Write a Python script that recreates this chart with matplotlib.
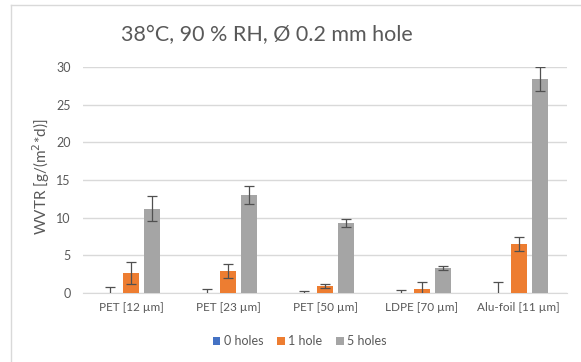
import matplotlib
matplotlib.use("Agg")
import matplotlib.pyplot as plt
import numpy as np
from matplotlib.lines import Line2D

plt.rcParams['font.family'] = ['Lato', 'DejaVu Sans']

categories = ["PET [12 µm]", "PET [23 µm]", "PET [50 µm]", "LDPE [70 µm]", "Alu-foil [11 µm]"]
series_names = ["0 holes", "1 hole", "5 holes"]
vals_0 = [0, 0, 0, 0, 0]
err_0 = [0.8, 0.55, 0.27, 0.4, 1.45]
vals_1 = [2.6, 2.9, 0.9, 0.45, 6.5]
err_1 = [1.45, 0.95, 0.3, 1.0, 0.95]
vals_5 = [11.2, 13.0, 9.25, 3.3, 28.45]
err_5 = [1.65, 1.15, 0.5, 0.3, 1.6]
yticks = [0, 5, 10, 15, 20, 25, 30]

colors = ["#4472C4", "#ED7D31", "#A5A5A5"]
text_c = "#595959"

fig = plt.figure(figsize=(5.81, 3.62), dpi=100)
ax = fig.add_axes([0.1429, 0.1914, 0.976 - 0.1429, 0.814 - 0.1914])

x = np.arange(len(categories))
w = 0.165
step = 0.217
for i, (v, e) in enumerate([(vals_0, err_0), (vals_1, err_1), (vals_5, err_5)]):
    ax.bar(x + (i - 1) * step, v, width=w, color=colors[i], label=series_names[i],
           yerr=e, error_kw=dict(ecolor="#505050", elinewidth=0.9, capsize=3.5, capthick=0.9),
           zorder=3)

ax.set_xlim(-0.5, len(categories) - 0.5)
ax.set_ylim(0, 30)
ax.set_yticks(yticks)
ax.yaxis.grid(True, color="#D9D9D9", linewidth=1.0, zorder=0)
ax.set_axisbelow(True)
for s in ["top", "right", "left"]:
    ax.spines[s].set_visible(False)
ax.spines["bottom"].set_color("#D9D9D9")
ax.tick_params(axis='both', length=0, colors=text_c)
ax.tick_params(axis='y', pad=9, labelsize=9)
ax.tick_params(axis='x', pad=7, labelsize=8.5)
ax.set_xticks(x)
ax.set_xticklabels(categories)

fig.text(0.070, 0.511, "WVTR [g/(m$^2$*d)]", rotation=90, ha='center', va='center',
         color=text_c, fontsize=11)
fig.text(0.459, 0.903, "38°C, 90 % RH, Ø 0.2 mm hole", ha='center', va='center',
         color=text_c, fontsize=15.5)

leg = fig.legend(loc='center', bbox_to_anchor=(0.516, 0.058), ncol=3, frameon=False,
                 fontsize=9, handlelength=0.6, handleheight=0.6, handletextpad=0.3,
                 columnspacing=1.1, labelcolor=text_c)

fig.add_artist(Line2D([11/581, 11/581], [0, 1 - 5/362], transform=fig.transFigure,
                      color="#D9D9D9", linewidth=1.0))
fig.add_artist(Line2D([11/581, 1], [1 - 5/362, 1 - 5/362], transform=fig.transFigure,
                      color="#D9D9D9", linewidth=1.0))

fig.savefig("out.png", dpi=100, facecolor="white")
